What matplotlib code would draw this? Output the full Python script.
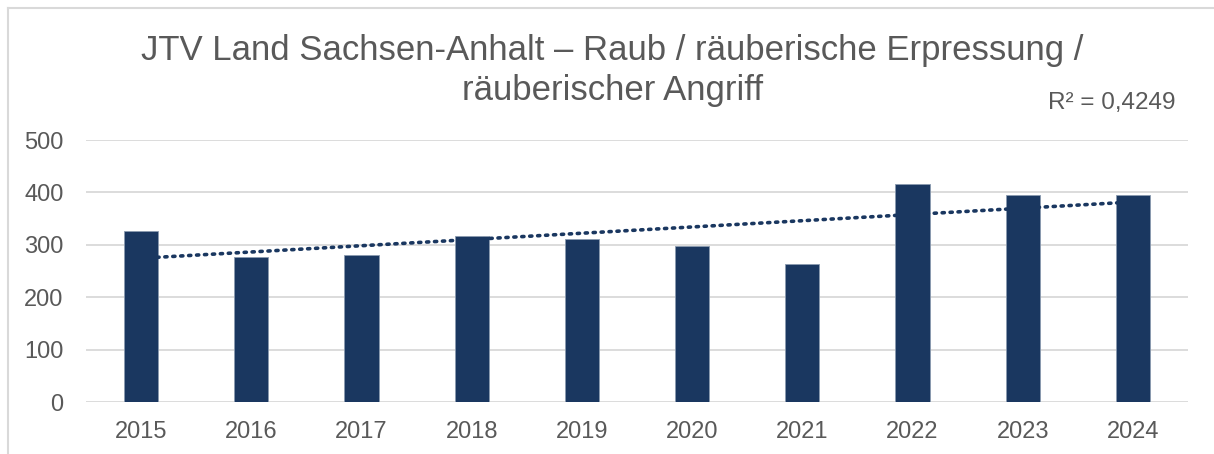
import numpy as np
import matplotlib.pyplot as plt
from matplotlib.lines import Line2D

plt.rcParams['font.family'] = ['Liberation Sans', 'DejaVu Sans']

years = ['2015', '2016', '2017', '2018', '2019', '2020', '2021', '2022', '2023', '2024']
cases = [327, 277, 280, 316, 311, 297, 264, 417, 396, 396]
yticks = [0, 100, 200, 300, 400, 500]

bar_color = '#1a3760'
text_color = '#595959'

fig = plt.figure(figsize=(12.14, 4.54), dpi=100)
ax = fig.add_axes([0.0708, 0.1145, 0.9078, 0.5771])

x = np.arange(len(years))
ax.bar(x, cases, width=0.31, color=bar_color, edgecolor='#8a9ab0', linewidth=0.6, zorder=3)

# linear trend
k, d = np.polyfit(x, cases, 1)
ax.plot(x, k * x + d, linestyle=(0, (0.6, 1.6)), color=bar_color, linewidth=2.6,
        dash_capstyle='round', zorder=4)

ax.set_xlim(-0.5, len(years) - 0.5)
ax.set_ylim(0, 500)
ax.set_yticks(yticks)
ax.set_xticks(x)
ax.set_xticklabels(years)
ax.yaxis.grid(True, color='#d9d9d9', linewidth=1.3, zorder=0)
ax.set_axisbelow(True)
for s in ax.spines.values():
    s.set_visible(False)
ax.tick_params(axis='both', length=0, labelsize=17, colors=text_color)
ax.tick_params(axis='x', pad=14)
ax.tick_params(axis='y', pad=16)

fig.text(0.5045, 0.8678, 'JTV Land Sachsen-Anhalt – Raub / räuberische Erpressung /',
         ha='center', va='baseline', fontsize=25, color=text_color)
fig.text(0.5045, 0.7797, 'räuberischer Angriff',
         ha='center', va='baseline', fontsize=25, color=text_color)
fig.text(0.9156, 0.7599, 'R² = 0,4249', ha='center', va='baseline', fontsize=17.5, color=text_color)

# chart frame: only top and left edges visible
fx, fy = 7.5 / 1214, 1 - 7.5 / 454
fig.lines.append(Line2D([fx, 1], [fy, fy], transform=fig.transFigure, color='#d9d9d9', linewidth=1.5))
fig.lines.append(Line2D([fx, fx], [0, fy], transform=fig.transFigure, color='#d9d9d9', linewidth=1.5))

fig.savefig('out.png', dpi=100)
